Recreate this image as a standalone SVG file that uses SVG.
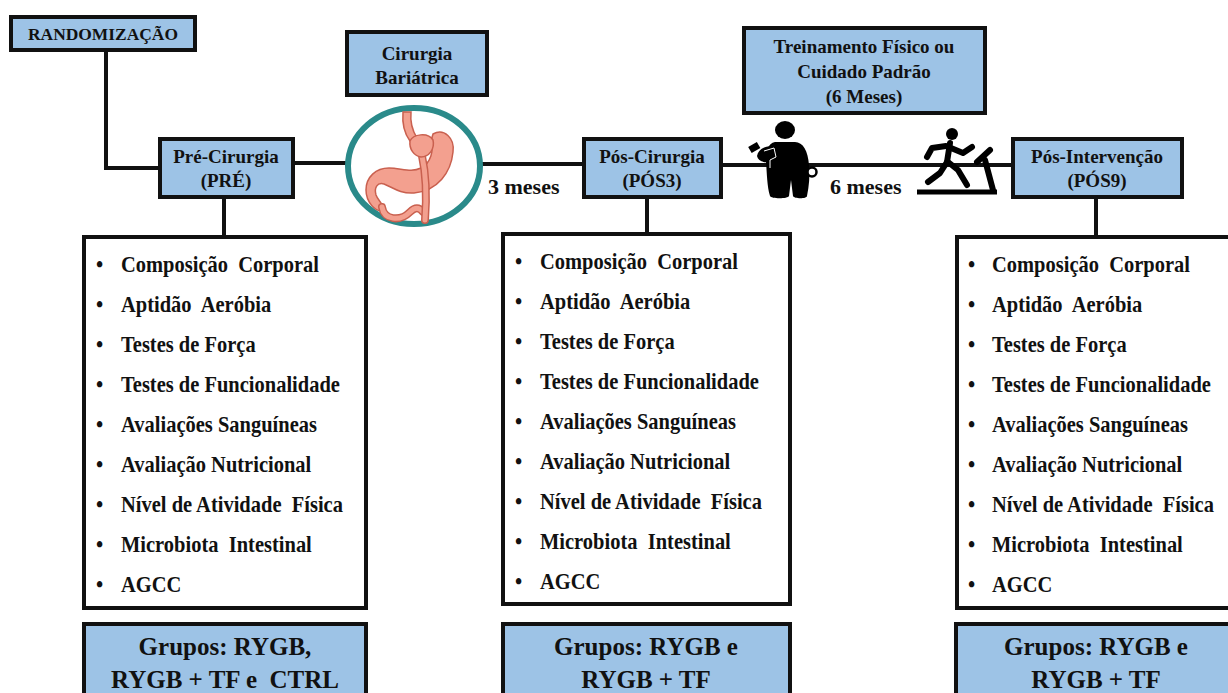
<svg xmlns="http://www.w3.org/2000/svg" width="1228" height="693" viewBox="0 0 1228 693" font-family="Liberation Serif, Times New Roman, serif" font-weight="bold">
<style>
.box{fill:#9dc3e6;stroke:#111;stroke-width:4}
.list{fill:#fff;stroke:#111;stroke-width:4}
.con{fill:none;stroke:#111;stroke-width:4}
text{font-family:'Liberation Serif',serif;font-weight:700;fill:#111}
.lbl{font-size:19px;text-anchor:middle}
.item{font-size:20.5px}
.grp{font-size:25px;text-anchor:middle}
.mes{font-size:22px}
.stom{fill:#f3a08f;stroke:#c9604f;stroke-width:1.5}
.tube{fill:none;stroke:#c9604f;stroke-width:8;stroke-linecap:round}
.tubein{fill:none;stroke:#f3a08f;stroke-width:5;stroke-linecap:round}
.run{fill:none;stroke:#000;stroke-width:6;stroke-linecap:round;stroke-linejoin:round}
</style>
<rect width="1228" height="693" fill="#fff"/>

<g id="connectors">
<path class="con" d="M106,50 V168 H160"/>
<path class="con" d="M293,163 H348"/>
<path class="con" d="M481,164 H584"/>
<path class="con" d="M721,165 H1013"/>
<path class="con" d="M224,197 V237"/>
<path class="con" d="M647,197 V234"/>
<path class="con" d="M1096,197 V237"/>
</g>

<g id="randomizacao">
<rect class="box" x="11" y="17" width="184" height="33"/>
<text x="103" y="40" style="font-size:16px;text-anchor:middle" textLength="150" lengthAdjust="spacingAndGlyphs">RANDOMIZAÇÃO</text>
</g>

<g id="pre-cirurgia">
<rect class="box" x="160" y="139" width="133" height="58"/>
<text class="lbl" x="226" y="163">Pré-Cirurgia</text>
<text class="lbl" x="226" y="187">(PRÉ)</text>
</g>

<g id="cirurgia-bariatrica">
<rect class="box" x="347" y="32" width="140" height="63"/>
<text class="lbl" x="417" y="60">Cirurgia</text>
<text class="lbl" x="417" y="84">Bariátrica</text>
</g>

<g id="stomach-icon">
<ellipse cx="414" cy="166" rx="66" ry="58" fill="#fff" stroke="#2a8a8a" stroke-width="6"/>
<path class="stom" d="M403,112 C402,124 404,133 410,141 L417,138 C412,130 410,122 411,112 Z"/>
<path class="stom" d="M433,134 C444,128 455,138 453,152 C451,172 438,191 414,193 C400,194 392,187 384,184 C377,182 374,188 376,195 C378,201 385,205 383,210 C376,213 366,202 366,190 C366,177 376,168 389,168 C401,168 411,173 421,168 C431,163 434,150 431,141 Z"/>
<path class="tube" d="M382,207 C384,220 400,222 410,212 C415,207 419,207 423,212"/>
<path class="tubein" d="M382,207 C384,220 400,222 410,212 C415,207 419,207 423,212"/>
<path class="tube" d="M422,156 C426,174 427,194 425,220"/>
<path class="tubein" d="M422,156 C426,174 427,194 425,220"/>
<path class="stom" d="M410,141 C413,134 428,132 433,140 C435,149 429,157 421,157 C414,156 409,149 410,141 Z"/>
</g>

<text class="mes" x="488" y="194">3 meses</text>

<g id="pos-cirurgia">
<rect class="box" x="584" y="139" width="137" height="58"/>
<text class="lbl" x="652" y="163">Pós-Cirurgia</text>
<text class="lbl" x="652" y="187">(PÓS3)</text>
</g>

<g id="treinamento">
<rect class="box" x="744" y="28" width="241" height="85"/>
<text class="lbl" x="864" y="53">Treinamento Físico ou</text>
<text class="lbl" x="864" y="78">Cuidado Padrão</text>
<text class="lbl" x="864" y="103">(6 Meses)</text>
</g>

<g id="person-icon">
<ellipse cx="785" cy="130" rx="10" ry="9" fill="#000"/>
<path fill="#000" d="M775,142 C768,143 765,152 766,162 C767,174 767,186 770,196 C771,199 788,199 789,196 L791,180 L793,196 C794,199 807,199 807,196 C809,186 810,176 809,165 C808,151 803,142 795,142 Z"/>
<path fill="#000" d="M772,146 C764,146 758,150 757,156 C758,161 764,163 770,162 L778,158 Z"/>
<rect x="749" y="144" width="10" height="7" fill="#000" transform="rotate(-30 754 147)"/>
<path fill="none" stroke="#fff" stroke-width="1" d="M764,151 L774,148 L776,157 L770,160 L770,168"/>
<circle cx="812" cy="172" r="4.5" fill="#fff" stroke="#000" stroke-width="2.5"/>
</g>

<text class="mes" x="830" y="194">6 meses</text>

<g id="treadmill-icon">
<path d="M917,192 H997" fill="none" stroke="#000" stroke-width="5"/>
<path class="run" d="M993,190 L985,160"/>
<path class="run" d="M977,162 L990,150"/>
<circle cx="952" cy="134" r="6" fill="#000"/>
<path class="run" d="M950,143 L947,162" stroke-width="8"/>
<path class="run" d="M948,162 L958,170 L967,185"/>
<path class="run" d="M947,162 L940,173 L928,182"/>
<path class="run" d="M946,146 L932,148 L927,157"/>
<path class="run" d="M951,148 L963,153 L972,147"/>
</g>

<g id="pos-intervencao">
<rect class="box" x="1013" y="139" width="169" height="58"/>
<text class="lbl" x="1097" y="163">Pós-Intervenção</text>
<text class="lbl" x="1097" y="187">(PÓS9)</text>
</g>

<g id="lista-pre">
<rect class="list" x="84" y="237" width="282" height="371"/>
<text transform="matrix(1 0 0 1.12 96 272)" class="item">•</text><text transform="matrix(1 0 0 1.12 121 272)" class="item" xml:space="preserve">Composição  Corporal</text>
<text transform="matrix(1 0 0 1.12 96 312)" class="item">•</text><text transform="matrix(1 0 0 1.12 121 312)" class="item" xml:space="preserve">Aptidão  Aeróbia</text>
<text transform="matrix(1 0 0 1.12 96 352)" class="item">•</text><text transform="matrix(1 0 0 1.12 121 352)" class="item">Testes de Força</text>
<text transform="matrix(1 0 0 1.12 96 392)" class="item">•</text><text transform="matrix(1 0 0 1.12 121 392)" class="item">Testes de Funcionalidade</text>
<text transform="matrix(1 0 0 1.12 96 432)" class="item">•</text><text transform="matrix(1 0 0 1.12 121 432)" class="item">Avaliações Sanguíneas</text>
<text transform="matrix(1 0 0 1.12 96 472)" class="item">•</text><text transform="matrix(1 0 0 1.12 121 472)" class="item">Avaliação Nutricional</text>
<text transform="matrix(1 0 0 1.12 96 512)" class="item">•</text><text transform="matrix(1 0 0 1.12 121 512)" class="item" xml:space="preserve">Nível de Atividade  Física</text>
<text transform="matrix(1 0 0 1.12 96 552)" class="item">•</text><text transform="matrix(1 0 0 1.12 121 552)" class="item" xml:space="preserve">Microbiota  Intestinal</text>
<text transform="matrix(1 0 0 1.12 96 592)" class="item">•</text><text transform="matrix(1 0 0 1.12 121 592)" class="item">AGCC</text>
</g>

<g id="lista-pos3">
<rect class="list" x="503" y="234" width="287" height="370"/>
<text transform="matrix(1 0 0 1.12 515 269)" class="item">•</text><text transform="matrix(1 0 0 1.12 540 269)" class="item" xml:space="preserve">Composição  Corporal</text>
<text transform="matrix(1 0 0 1.12 515 309)" class="item">•</text><text transform="matrix(1 0 0 1.12 540 309)" class="item" xml:space="preserve">Aptidão  Aeróbia</text>
<text transform="matrix(1 0 0 1.12 515 349)" class="item">•</text><text transform="matrix(1 0 0 1.12 540 349)" class="item">Testes de Força</text>
<text transform="matrix(1 0 0 1.12 515 389)" class="item">•</text><text transform="matrix(1 0 0 1.12 540 389)" class="item">Testes de Funcionalidade</text>
<text transform="matrix(1 0 0 1.12 515 429)" class="item">•</text><text transform="matrix(1 0 0 1.12 540 429)" class="item">Avaliações Sanguíneas</text>
<text transform="matrix(1 0 0 1.12 515 469)" class="item">•</text><text transform="matrix(1 0 0 1.12 540 469)" class="item">Avaliação Nutricional</text>
<text transform="matrix(1 0 0 1.12 515 509)" class="item">•</text><text transform="matrix(1 0 0 1.12 540 509)" class="item" xml:space="preserve">Nível de Atividade  Física</text>
<text transform="matrix(1 0 0 1.12 515 549)" class="item">•</text><text transform="matrix(1 0 0 1.12 540 549)" class="item" xml:space="preserve">Microbiota  Intestinal</text>
<text transform="matrix(1 0 0 1.12 515 589)" class="item">•</text><text transform="matrix(1 0 0 1.12 540 589)" class="item">AGCC</text>
</g>

<g id="lista-pos9">
<rect class="list" x="957" y="237" width="290" height="371"/>
<text transform="matrix(1 0 0 1.12 968 272)" class="item">•</text><text transform="matrix(1 0 0 1.12 992 272)" class="item" xml:space="preserve">Composição  Corporal</text>
<text transform="matrix(1 0 0 1.12 968 312)" class="item">•</text><text transform="matrix(1 0 0 1.12 992 312)" class="item" xml:space="preserve">Aptidão  Aeróbia</text>
<text transform="matrix(1 0 0 1.12 968 352)" class="item">•</text><text transform="matrix(1 0 0 1.12 992 352)" class="item">Testes de Força</text>
<text transform="matrix(1 0 0 1.12 968 392)" class="item">•</text><text transform="matrix(1 0 0 1.12 992 392)" class="item">Testes de Funcionalidade</text>
<text transform="matrix(1 0 0 1.12 968 432)" class="item">•</text><text transform="matrix(1 0 0 1.12 992 432)" class="item">Avaliações Sanguíneas</text>
<text transform="matrix(1 0 0 1.12 968 472)" class="item">•</text><text transform="matrix(1 0 0 1.12 992 472)" class="item">Avaliação Nutricional</text>
<text transform="matrix(1 0 0 1.12 968 512)" class="item">•</text><text transform="matrix(1 0 0 1.12 992 512)" class="item" xml:space="preserve">Nível de Atividade  Física</text>
<text transform="matrix(1 0 0 1.12 968 552)" class="item">•</text><text transform="matrix(1 0 0 1.12 992 552)" class="item" xml:space="preserve">Microbiota  Intestinal</text>
<text transform="matrix(1 0 0 1.12 968 592)" class="item">•</text><text transform="matrix(1 0 0 1.12 992 592)" class="item">AGCC</text>
</g>

<g id="grupos-pre">
<rect class="box" x="84" y="624" width="282" height="80"/>
<text class="grp" x="225" y="655">Grupos: RYGB,</text>
<text class="grp" x="225" y="688" xml:space="preserve">RYGB + TF e  CTRL</text>
</g>

<g id="grupos-pos3">
<rect class="box" x="503" y="624" width="287" height="80"/>
<text class="grp" x="646" y="655">Grupos: RYGB e</text>
<text class="grp" x="646" y="688">RYGB + TF</text>
</g>

<g id="grupos-pos9">
<rect class="box" x="956" y="624" width="290" height="80"/>
<text class="grp" x="1096" y="655">Grupos: RYGB e</text>
<text class="grp" x="1096" y="688">RYGB + TF</text>
</g>
</svg>
